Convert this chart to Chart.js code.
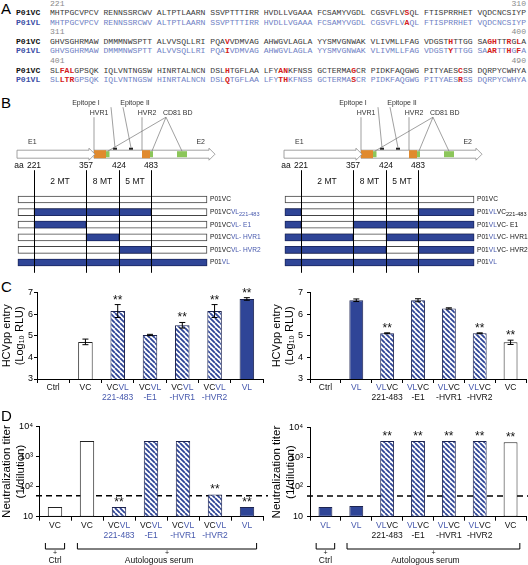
<!DOCTYPE html>
<html>
<head>
<meta charset="utf-8">
<script src="https://cdn.jsdelivr.net/npm/chart.js@4.4.1/dist/chart.umd.min.js"></script>
<style>
  body { margin: 0; width: 528px; height: 565px; position: relative; overflow: hidden; background: #fff; font-family: 'Liberation Sans', Arial, sans-serif; }
  canvas { position: absolute; }
  .pl { position: absolute; font-size: 15px; line-height: 15px; color: #000; }
  #seq { position: absolute; left: 16px; top: -1.5px; font: 8.1px 'Liberation Mono', monospace; line-height: 9.6px; white-space: pre; color: #3a3a3a; }
  #seq .num { color: #8a8a8a; }
  #seq .vl { color: #6f7fc4; }
  #seq .lab { font-weight: bold; color: #111; }
  #seq .labvl { font-weight: bold; color: #3c4fa6; }
  #seq .mut { font-weight: bold; color: #d42020; }
</style>
</head>
<body>
<div class="pl" style="left:1px;top:1px">A</div>
<div id="seq"></div>
<div class="pl" style="left:1px;top:95px">B</div>
<canvas id="schL" width="267" height="180" style="left:0;top:95px"></canvas>
<canvas id="schR" width="261" height="180" style="left:267px;top:95px"></canvas>
<div class="pl" style="left:1px;top:279px">C</div>
<canvas id="entryL" width="265" height="130" style="left:0;top:278px"></canvas>
<canvas id="entryR" width="258" height="130" style="left:270px;top:278px"></canvas>
<div class="pl" style="left:1px;top:408px">D</div>
<canvas id="titerL" width="268" height="147" style="left:0;top:418px"></canvas>
<canvas id="titerR" width="258" height="147" style="left:270px;top:418px"></canvas>
<script>
'use strict';

// ---- panel A: E1E2 sequences, aa 221-490 ----
const seqStarts = [221, 311, 401];
const seqEnds = [310, 400, 490];
const seqVC = [
  'MHTPGCVPCV RENNSSRCWV ALTPTLAARN SSVPTTTIRR HVDLLVGAAA FCSAMYVGDL CGSVFLVSQL FTISPRRHET VQDCNCSIYP',
  'GHVSGHRMAW DMMMNWSPTT ALVVSQLLRI PQAVVDMVAG AHWGVLAGLA YYSMVGNWAK VLIVMLLFAG VDGSTHTTGG SAGHTTRGLA',
  'SLFALGPSQK IQLVNTNGSW HINRTALNCN DSLHTGFLAA LFYANKFNSS GCTERMAGCR PIDKFAQGWG PITYAESCSS DQRPYCWHYA'
];
const seqVL = [
  'MHTPGCVPCV RENNSSRCWV ALTPTLAARN SSVPTTTIRR HVDLLVGAAA FCSAMYVGDL CGSVFLVAQL FTISPRRHET VQDCNCSIYP',
  'GHVSGHRMAW DMMMNWSPTT ALVVSQLLRI PQAIVDMVAG AHWGVLAGLA YYSMVGNWAK VLIVMLLFAG VDGSTYTTGG SAARTTHGFA',
  'SLLTRGPSQK IQLVNTNGSW HINRTALNCN DSLQTGFLAA LFYTHKFNSS GCTERMASCR PIDKFAQGWG PITYAESRSS DQRPYCWHYA'
];

// ---- panel B: chimera schematic (aa positions) ----
const envStart = 192;
const e2Start = 384;
const envEnd = 746;
const regionMarks = [221, 357, 424, 483];
const mutationLabels = ['2 MT', '8 MT', '5 MT'];
const hvrRegions = [[384, 410], [474, 482]];
const hvrNames = ['HVR1', 'HVR2'];
const cd81Regions = [[410, 411], [482, 494], [522, 551]];
const epitopeRegions = [[412, 423], [434, 446]];
const epitopeNames = ['Epitope I', 'Epitope II'];
const constructsL = ['P01VC', 'P01VC[VL]~[221-483]', 'P01VC[VL- E1]', 'P01VC[VL- HVR1]', 'P01VC[VL- HVR2]', 'P01[VL]'];
const swapsL = [[], [[221, 483]], [[221, 357]], [[357, 424]], [[424, 483]], [[192, 746]]];
const constructsR = ['P01VC', 'P01[VL]VC~221-483', 'P01[VL]VC- E1', 'P01[VL]VC- HVR1', 'P01[VL]VC- HVR2', 'P01[VL]'];
const swapsR = [[], [[192, 221], [483, 746]], [[192, 221], [357, 746]], [[192, 357], [424, 746]], [[192, 424], [483, 746]], [[192, 746]]];

// ---- panel C: HCVpp entry (log10 RLU) ----
const entryCatsL = ['Ctrl', 'VC', 'VC[VL]|[221-483]', 'VC[VL]|[-E1]', 'VC[VL]|[-HVR1]', 'VC[VL]|[-HVR2]', '[VL]'];
const entryValsL = [null, 4.72, 6.15, 5.04, 5.49, 6.15, 6.71];
const entryErrL = [0, 0.13, 0.3, 0.03, 0.13, 0.3, 0.06];
const entrySigL = [0, 0, 1, 0, 1, 1, 1];
const entryCatsR = ['Ctrl', '[VL]', '[VL]VC|221-483', '[VL]VC|-E1', '[VL]VC|-HVR1', '[VL]VC|-HVR2', 'VC'];
const entryValsR = [null, 6.65, 5.12, 6.65, 6.27, 5.12, 4.7];
const entryErrR = [0, 0.06, 0.02, 0.07, 0.03, 0.02, 0.1];
const entrySigR = [0, 0, 1, 0, 0, 1, 1];
const entryTicks = [3, 4, 5, 6, 7];

// ---- panel D: neutralization titer ----
const titerCatsL = ['VC', 'VC', 'VC[VL]|[221-483]', 'VC[VL]|[-E1]', 'VC[VL]|[-HVR1]', 'VC[VL]|[-HVR2]', '[VL]'];
const titerValsL = [21, 3300, 21, 3300, 3300, 55, 21];
const titerSigL = [0, 0, 1, 0, 0, 1, 1];
const titerCatsR = ['[VL]', '[VL]', '[VL]VC|221-483', '[VL]VC|-E1', '[VL]VC|-HVR1', '[VL]VC|-HVR2', 'VC'];
const titerValsR = [21, 23, 3500, 3500, 3500, 3500, 3200];
const titerSigR = [0, 0, 1, 1, 1, 1, 1];
const titerTicks = [10, 100, 1000, 10000];
const titerTickLabels = ['10', '10\u00b2', '10\u00b3', '10\u2074'];
const titerCutoff = 50;
const serumGroups = [['Ctrl', 0, 0], ['Autologous serum', 1, 6]];

// ---------- styling ----------
const FONT = "'Liberation Sans', Arial, sans-serif";
const BLUE = '#2f4597';
const BLUE_TXT = '#4658ad';
Chart.defaults.font.family = FONT;
Chart.defaults.color = '#000';

// ---------- panel A ----------
function buildSequences() {
  let box = document.getElementById('seq');
  let html = '';
  for (let r = 0; r < seqVC.length; r++) {
    let a = String(seqStarts[r]), b = String(seqEnds[r]);
    html += '<span class="num">       ' + a + ' '.repeat(seqVC[r].length - a.length - b.length) + b + '</span>\n';
    [[seqVC[r], seqVL[r], 'P01VC', 'lab', ''], [seqVL[r], seqVC[r], 'P01VL', 'labvl', 'vl']].forEach(function (row) {
      let s = row[0], other = row[1];
      let line = '<span class="' + row[3] + '">' + row[2] + '</span>  <span class="' + row[4] + '">';
      for (let j = 0; j < s.length; j++) {
        line += s[j] !== other[j] ? '<span class="mut">' + s[j] + '</span>' : s[j];
      }
      html += line + '</span>\n';
    });
  }
  box.innerHTML = html;
}
buildSequences();

// ---------- text helpers ----------
function parseMarkup(s) {
  let out = [];
  let sub = false;
  s.split(/(\[[^\]]*\]|~)/).forEach(function (t) {
    if (!t) return;
    if (t === '~') { sub = true; return; }
    if (t[0] === '[') out.push({ text: t.slice(1, -1), blue: true, sub: sub });
    else out.push({ text: t, blue: false, sub: sub });
  });
  return out;
}

function drawMarkup(ctx, s, x, y, size, align) {
  let segs = parseMarkup(s);
  let w = 0;
  segs.forEach(function (g) {
    ctx.font = (g.sub ? size * 0.85 : size) + 'px ' + FONT;
    g.w = ctx.measureText(g.text).width;
    w += g.w;
  });
  let cx = align === 'left' ? x : x - w / 2;
  ctx.textAlign = 'left';
  ctx.textBaseline = 'middle';
  segs.forEach(function (g) {
    ctx.font = (g.sub ? size * 0.85 : size) + 'px ' + FONT;
    ctx.fillStyle = g.blue ? BLUE_TXT : '#111';
    ctx.fillText(g.text, cx, g.sub ? y + size * 0.35 : y);
    cx += g.w;
  });
}

// ---------- panel B ----------
// the drawing is not to scale: aa -> schematic units
const AA_MAP = [[192, 1], [221, 17], [357, 69], [384, 77], [410, 89], [412, 96], [423, 100], [424, 102],
  [434, 112], [446, 116], [474, 125], [483, 134], [494, 136], [522, 160], [551, 170], [746, 190]];

function aaUnit(aa) {
  for (let i = 1; i < AA_MAP.length; i++) {
    let p = AA_MAP[i - 1], q = AA_MAP[i];
    if (aa <= q[0]) return p[1] + (aa - p[0]) * (q[1] - p[1]) / (q[0] - p[0]);
  }
  return AA_MAP[AA_MAP.length - 1][1];
}

function arrowPath(ctx, x0, x1, y, hb, hh, hl) {
  ctx.beginPath();
  ctx.moveTo(x0, y - hb);
  ctx.lineTo(x1 - hl, y - hb);
  ctx.lineTo(x1 - hl, y - hh);
  ctx.lineTo(x1, y);
  ctx.lineTo(x1 - hl, y + hh);
  ctx.lineTo(x1 - hl, y + hb);
  ctx.lineTo(x0, y + hb);
  ctx.closePath();
  ctx.fill();
  ctx.stroke();
}

function schematicPlugin(rows) {
  return {
    id: 'schematic',
    afterDatasetsDraw(chart) {
      const ctx = chart.ctx, a = chart.chartArea;
      const xs = chart.scales.x, ys = chart.scales.y;
      const X = aa => xs.getPixelForValue(aaUnit(aa));
      const ay = a.top - 39;
      ctx.save();

      // E1 / E2 arrows with HVR, CD81 and epitope boxes
      ctx.lineWidth = 0.8;
      ctx.strokeStyle = '#8c8c8c';
      ctx.fillStyle = '#fff';
      arrowPath(ctx, X(e2Start), X(envEnd) + 8, ay, 4, 6, 6);
      ctx.fillStyle = '#e08a2e';
      hvrRegions.forEach(r => ctx.fillRect(X(r[0]), ay - 4, X(r[1]) - X(r[0]), 8));
      ctx.fillStyle = '#8cc65a';
      cd81Regions.forEach(r => ctx.fillRect(X(r[0]), ay - 3, X(r[1]) - X(r[0]), 6));
      ctx.fillStyle = '#fff';
      arrowPath(ctx, X(envStart) - 1, X(e2Start) + 1, ay, 4, 6, 6);
      ctx.fillStyle = '#222';
      epitopeRegions.forEach(r => ctx.fillRect(X(r[0]), ay - 6.5, Math.max(3, X(r[1]) - X(r[0])), 2));

      // feature labels and leader lines
      ctx.font = '7px ' + FONT;
      ctx.fillStyle = '#333';
      ctx.textBaseline = 'middle';
      ctx.textAlign = 'left';
      ctx.fillText('E1', X(envStart) + 10, ay - 12);
      ctx.textAlign = 'right';
      ctx.fillText('E2', X(envEnd) - 2, ay - 12);
      ctx.strokeStyle = '#777';
      ctx.lineWidth = 0.7;
      ctx.textAlign = 'center';
      const epiDx = [-29, 4], epiLead = [-4, -8];
      epitopeRegions.forEach((r, i) => {
        let c = X((r[0] + r[1]) / 2);
        ctx.fillText(epitopeNames[i], c + epiDx[i], a.top - 90);
        ctx.beginPath();
        ctx.moveTo(c + epiLead[i], a.top - 86);
        ctx.lineTo(c, ay - 6.5);
        ctx.stroke();
      });
      hvrRegions.forEach((r, i) => {
        ctx.fillText(hvrNames[i], X(r[0]) + 5, a.top - 80);
        ctx.beginPath();
        ctx.moveTo(X(r[0]), a.top - 76);
        ctx.lineTo(X(r[0]), ay - 4);
        ctx.stroke();
      });
      let cdx = X(hvrRegions[1][0]) + 21;
      ctx.textAlign = 'left';
      ctx.fillText('CD81 BD', cdx, a.top - 80);
      cd81Regions.forEach(r => {
        ctx.beginPath();
        ctx.moveTo(cdx + 3, a.top - 76);
        ctx.lineTo(X((r[0] + r[1]) / 2), ay - 3);
        ctx.stroke();
      });

      // aa positions, mutation counts and boundary lines
      ctx.font = '8.5px ' + FONT;
      ctx.fillStyle = '#111';
      ctx.textAlign = 'center';
      ctx.fillText('aa', X(regionMarks[0]) - 15, a.top - 28);
      regionMarks.forEach(m => ctx.fillText(String(m), X(m), a.top - 28));
      mutationLabels.forEach((t, i) => ctx.fillText(t, (X(regionMarks[i]) + X(regionMarks[i + 1])) / 2, a.top - 11.5));
      ctx.strokeStyle = '#000';
      ctx.lineWidth = 1;
      regionMarks.forEach(m => {
        let px = Math.round(X(m)) + 0.5;
        ctx.beginPath();
        ctx.moveTo(px, a.top - 23);
        ctx.lineTo(px, a.bottom + 4);
        ctx.stroke();
      });

      // construct names
      rows.forEach((r, i) => drawMarkup(ctx, r, X(envEnd) + 3, ys.getPixelForValue(i), 6.6, 'left'));
      ctx.restore();
    }
  };
}

function makeSchematic(id, rows, swaps, padRight) {
  const U = r => [aaUnit(r[0]), aaUnit(r[1])];
  return new Chart(document.getElementById(id), {
    type: 'bar',
    data: {
      labels: rows,
      datasets: [
        { data: swaps.map(s => s[0] ? U(s[0]) : null), backgroundColor: BLUE, borderColor: '#1d2a66' },
        { data: swaps.map(s => s[1] ? U(s[1]) : null), backgroundColor: BLUE, borderColor: '#1d2a66' },
        { data: rows.map(() => U([envStart, envEnd])), backgroundColor: '#fff', borderColor: '#444' }
      ]
    },
    options: {
      indexAxis: 'y',
      responsive: false,
      animation: false,
      layout: { padding: { left: 17, right: padRight, top: 98.2, bottom: 6.2 } },
      datasets: { bar: { grouped: false, barThickness: 7, borderWidth: 1, borderSkipped: false } },
      plugins: { legend: { display: false }, tooltip: { enabled: false } },
      scales: {
        x: { type: 'linear', display: false, min: 0, max: 198 },
        y: { display: false }
      }
    },
    plugins: [schematicPlugin(rows)]
  });
}

makeSchematic('schL', constructsL, swapsL, 52);
makeSchematic('schR', constructsR, swapsR, 46);

// ---------- panels C and D ----------
function hatchPattern() {
  let s = 5;
  let c = document.createElement('canvas');
  c.width = s;
  c.height = s;
  let g = c.getContext('2d');
  g.fillStyle = '#fff';
  g.fillRect(0, 0, s, s);
  g.strokeStyle = BLUE;
  g.lineWidth = 1.8;
  g.beginPath();
  [-s, 0, s].forEach(k => { g.moveTo(k, 0); g.lineTo(k + s, s); });
  g.stroke();
  return g.createPattern(c, 'repeat');
}

function barKind(cat) {
  let head = cat.split('|')[0].replace(/[\[\]]/g, '');
  if (head === 'VL') return 'solid';
  if (head === 'VC' || head === 'Ctrl') return 'open';
  return 'hatch';
}

function extrasPlugin(o) {
  return {
    id: 'extras',
    beforeDatasetsDraw(chart) {
      if (!o.cutoff) return;
      const ctx = chart.ctx, a = chart.chartArea;
      let ty = chart.scales.y.getPixelForValue(o.cutoff);
      ctx.save();
      ctx.strokeStyle = '#000';
      ctx.lineWidth = 1.5;
      ctx.setLineDash([6, 4]);
      ctx.beginPath();
      ctx.moveTo(a.left - 3, ty);
      ctx.lineTo(chart.width, ty);
      ctx.stroke();
      ctx.restore();
    },
    afterDraw(chart) {
      const ctx = chart.ctx, a = chart.chartArea;
      const xs = chart.scales.x, ys = chart.scales.y;
      const meta = chart.getDatasetMeta(0);
      ctx.save();
      ctx.strokeStyle = '#000';
      ctx.lineWidth = 1;
      o.values.forEach((v, i) => {
        if (v == null) return;
        let cx = meta.data[i].x;
        let top = ys.getPixelForValue(v);
        let e = o.errors ? o.errors[i] : 0;
        if (e) {
          let y1 = ys.getPixelForValue(v + e), y2 = ys.getPixelForValue(v - e);
          ctx.beginPath();
          ctx.moveTo(cx, y1); ctx.lineTo(cx, y2);
          ctx.moveTo(cx - 3, y1); ctx.lineTo(cx + 3, y1);
          ctx.moveTo(cx - 3, y2); ctx.lineTo(cx + 3, y2);
          ctx.stroke();
          top = y1;
        }
        if (o.sig[i]) {
          ctx.font = '12px ' + FONT;
          ctx.fillStyle = '#111';
          ctx.textAlign = 'center';
          ctx.textBaseline = 'alphabetic';
          ctx.fillText('**', cx, top - 1);
        }
      });
      o.cats.forEach((c, i) => {
        c.split('|').forEach((ln, k) => drawMarkup(ctx, ln, xs.getPixelForValue(i), a.bottom + o.lab0 + k * o.labStep, 8.5, 'center'));
      });
      if (o.groups) {
        let cw = xs.getPixelForValue(1) - xs.getPixelForValue(0);
        let yb = a.bottom + 32.3;
        o.groups.forEach(gr => {
          let x1 = xs.getPixelForValue(gr[1]) - cw * 0.3, x2 = xs.getPixelForValue(gr[2]) + cw * 0.3;
          ctx.beginPath();
          ctx.moveTo(x1, yb - 6); ctx.lineTo(x1, yb); ctx.lineTo(x2, yb); ctx.lineTo(x2, yb - 6);
          ctx.stroke();
          ctx.fillStyle = '#111';
          ctx.textAlign = 'center';
          ctx.textBaseline = 'middle';
          ctx.font = '7px ' + FONT;
          ctx.fillText('+', (x1 + x2) / 2, yb + 4);
          ctx.font = '8.5px ' + FONT;
          ctx.fillText(gr[0], (x1 + x2) / 2 - (gr[2] > gr[1] ? 8 : 0), yb + 12);
        });
      }
      ctx.restore();
    }
  };
}

function makeBarChart(id, o) {
  const kinds = o.cats.map(barKind);
  const pat = hatchPattern();
  const yScale = {
    grid: { drawOnChartArea: false, tickLength: 3, color: '#000' },
    border: { color: '#000' },
    ticks: { color: '#000', font: { size: 9 }, padding: o.tickPad },
    title: { display: true, text: o.title, color: '#000', font: { size: o.titleSize, lineHeight: 1.2 }, padding: 0 },
    afterFit: s => { s.width = o.yw; }
  };
  if (o.log) {
    Object.assign(yScale, {
      type: 'logarithmic', min: titerTicks[0], max: titerTicks[titerTicks.length - 1],
      afterBuildTicks: s => { s.ticks = titerTicks.map(v => ({ value: v })); }
    });
    yScale.ticks.callback = (v, i) => titerTickLabels[i];
  } else {
    Object.assign(yScale, {
      min: entryTicks[0], max: entryTicks[entryTicks.length - 1],
      afterBuildTicks: s => { s.ticks = entryTicks.map(v => ({ value: v })); }
    });
  }
  return new Chart(document.getElementById(id), {
    type: 'bar',
    data: {
      labels: o.cats,
      datasets: [{
        data: o.values,
        backgroundColor: kinds.map(k => k === 'solid' ? BLUE : k === 'hatch' ? pat : '#fff'),
        borderColor: kinds.map(k => k === 'open' ? '#222' : '#1d2450'),
        borderWidth: 1,
        borderSkipped: false,
        barPercentage: 0.45,
        categoryPercentage: 1
      }]
    },
    options: {
      responsive: false,
      animation: false,
      layout: { padding: o.pad },
      plugins: { legend: { display: false }, tooltip: { enabled: false } },
      scales: {
        x: {
          grid: { drawOnChartArea: false, tickLength: 4, color: '#000', offset: true },
          border: { color: '#000' },
          ticks: { display: false },
          afterFit: s => { s.height = o.xh; }
        },
        y: yScale
      }
    },
    plugins: [extrasPlugin(o)]
  });
}

const entryTitle = ['HCVpp entry', '(Log\u2081\u2080 RLU)'];
const titerTitle = ['Neutralization titer', '(1/dilution)'];

makeBarChart('entryL', {
  cats: entryCatsL, values: entryValsL, errors: entryErrL, sig: entrySigL,
  title: entryTitle, titleSize: 11, yw: 37, tickPad: 1, xh: 29,
  pad: { top: 14.7, right: 2, left: 0, bottom: 0 }, lab0: 8.7, labStep: 10
});
makeBarChart('entryR', {
  cats: entryCatsR, values: entryValsR, errors: entryErrR, sig: entrySigR,
  title: entryTitle, titleSize: 11, yw: 40, tickPad: 4, xh: 29,
  pad: { top: 14.7, right: 2, left: 0, bottom: 0 }, lab0: 8.7, labStep: 10
});
makeBarChart('titerL', {
  cats: titerCatsL, values: titerValsL, sig: titerSigL, log: true, cutoff: titerCutoff, groups: serumGroups,
  title: titerTitle, titleSize: 11.5, yw: 39, tickPad: 3, xh: 48.3,
  pad: { top: 7.7, right: 5, left: 0, bottom: 0 }, lab0: 8.6, labStep: 10.7
});
makeBarChart('titerR', {
  cats: titerCatsR, values: titerValsR, sig: titerSigR, log: true, cutoff: titerCutoff, groups: serumGroups,
  title: titerTitle, titleSize: 11.5, yw: 40, tickPad: 4, xh: 48.3,
  pad: { top: 7.7, right: 2, left: 0, bottom: 0 }, lab0: 8.6, labStep: 10.7
});
</script>
</body>
</html>
